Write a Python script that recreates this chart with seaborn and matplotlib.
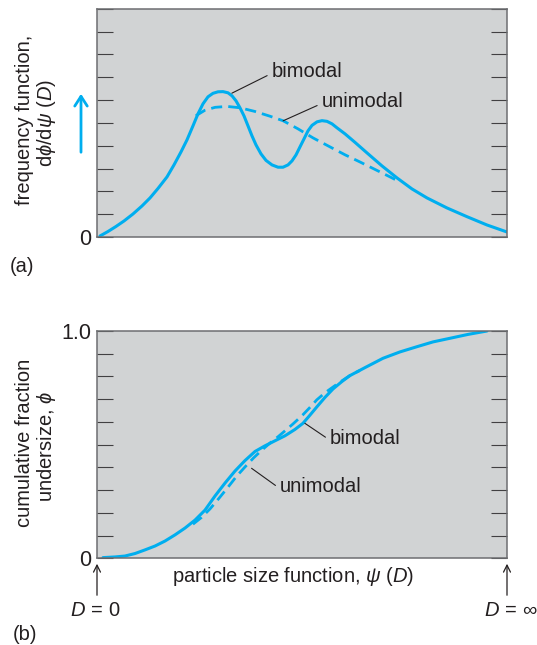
import matplotlib
matplotlib.use('Agg')
import matplotlib.pyplot as plt
import seaborn as sns
import pandas as pd

# values (x: 0..10 across the axis)
top_bi_x = [0.073, 0.268, 0.463, 0.659, 0.878, 1.098, 1.293, 1.488, 1.707, 1.878, 2.049, 2.195,
            2.341, 2.463, 2.585, 2.707, 2.829, 2.951, 3.073, 3.195, 3.293, 3.390, 3.488, 3.585,
            3.683, 3.780, 3.878, 4.000, 4.122, 4.268, 4.415, 4.537, 4.659, 4.756, 4.854, 4.951,
            5.049, 5.146, 5.244, 5.366, 5.488, 5.610, 5.732, 5.854, 6.049, 6.293, 6.585, 6.951,
            7.317, 7.683, 8.049, 8.537, 9.024, 9.512, 10.0]
top_bi_y = [0.044, 0.241, 0.461, 0.702, 1.009, 1.360, 1.711, 2.127, 2.632, 3.158, 3.728, 4.254,
            4.868, 5.395, 5.833, 6.140, 6.294, 6.360, 6.368, 6.316, 6.184, 5.965, 5.658, 5.307,
            4.868, 4.430, 4.035, 3.640, 3.355, 3.158, 3.057, 3.057, 3.158, 3.333, 3.596, 3.947,
            4.298, 4.649, 4.890, 5.044, 5.096, 5.066, 4.956, 4.781, 4.518, 4.145, 3.684, 3.114,
            2.588, 2.105, 1.711, 1.272, 0.890, 0.526, 0.219]
top_uni_x = [2.41, 2.63, 2.88, 3.17, 3.49, 3.85, 4.22, 4.54, 4.90, 5.27, 5.68, 6.05, 6.41, 6.78, 7.15, 7.39]
top_uni_y = [5.31, 5.55, 5.68, 5.72, 5.66, 5.50, 5.29, 5.09, 4.74, 4.34, 3.95, 3.60, 3.29, 2.96, 2.63, 2.41]

bot_bi_x = [0.146, 0.439, 0.683, 0.927, 1.171, 1.415, 1.659, 1.902, 2.146, 2.390, 2.634, 2.878,
            3.122, 3.366, 3.610, 3.854, 4.098, 4.341, 4.585, 4.829, 5.024, 5.195, 5.366, 5.561,
            5.756, 5.976, 6.171, 6.537, 6.976, 7.390, 7.805, 8.195, 8.610, 9.049, 9.512]
bot_bi_y = [0.003, 0.006, 0.010, 0.021, 0.037, 0.054, 0.076, 0.103, 0.133, 0.168, 0.212, 0.274,
            0.331, 0.384, 0.430, 0.470, 0.495, 0.517, 0.539, 0.567, 0.594, 0.630, 0.667, 0.708,
            0.745, 0.778, 0.804, 0.839, 0.880, 0.908, 0.931, 0.952, 0.968, 0.985, 1.0]
bot_uni_x = [2.34, 2.55, 2.76, 2.98, 3.20, 3.40, 3.61, 3.82, 4.02, 4.22, 4.41, 4.60, 4.78, 5.02,
             5.20, 5.36, 5.56, 5.76, 6.00, 6.20, 6.41]
bot_uni_y = [0.150, 0.180, 0.218, 0.265, 0.314, 0.360, 0.402, 0.442, 0.476, 0.507, 0.534, 0.563,
             0.591, 0.631, 0.665, 0.697, 0.728, 0.754, 0.784, 0.808, 0.826]

top_ticks = list(range(0, 11))
bot_ticks = [i / 10 for i in range(0, 11)]

BLUE = '#00AEEF'
BG = '#D1D3D4'
TXT = '#231F20'
GRAY = '#6D6E71'

sns.set_style('white')
plt.rcParams['font.family'] = ['Liberation Sans', 'DejaVu Sans']
plt.rcParams['mathtext.fontset'] = 'custom'
plt.rcParams['mathtext.rm'] = 'Liberation Sans'
plt.rcParams['mathtext.it'] = 'Liberation Sans:italic'
FS = 14.5

fig = plt.figure(figsize=(5.37, 6.45), dpi=100)
W, H = 537.0, 645.0
ax1 = fig.add_axes([97 / W, 1 - 237 / H, 410 / W, 228.3 / H])
ax2 = fig.add_axes([97 / W, 1 - 558.3 / H, 410 / W, 227.3 / H])

top_bi = pd.DataFrame({'x': top_bi_x, 'y': top_bi_y})
top_uni = pd.DataFrame({'x': top_uni_x, 'y': top_uni_y})
bot_bi = pd.DataFrame({'x': bot_bi_x, 'y': bot_bi_y})
bot_uni = pd.DataFrame({'x': bot_uni_x, 'y': bot_uni_y})

sns.lineplot(data=top_bi, x='x', y='y', ax=ax1, color=BLUE, lw=2.2, sort=False, estimator=None)
sns.lineplot(data=top_uni, x='x', y='y', ax=ax1, color=BLUE, lw=2.0, sort=False, estimator=None,
             dashes=False, linestyle=(0, (4, 2.2)))
sns.lineplot(data=bot_bi, x='x', y='y', ax=ax2, color=BLUE, lw=2.2, sort=False, estimator=None)
sns.lineplot(data=bot_uni, x='x', y='y', ax=ax2, color=BLUE, lw=2.0, sort=False, estimator=None,
             dashes=False, linestyle=(0, (4, 2.2)))

for ax, ticks, lab in [(ax1, top_ticks, ['0'] + [''] * 10), (ax2, bot_ticks, ['0'] + [''] * 9 + ['1.0'])]:
    ax.set_facecolor(BG)
    ax.set_xlim(0, 10)
    ax.set_ylim(ticks[0], ticks[-1])
    ax.set_xticks([])
    ax.set_yticks(ticks)
    ax.set_yticklabels(lab, fontsize=FS + 1, color=TXT)
    ax.tick_params(axis='y', direction='in', length=11.5, width=0.8, color='#414042',
                   left=True, right=True, labelleft=True, labelright=False, pad=4)
    ax.set_xlabel('')
    ax.set_ylabel('')
    for s in ax.spines.values():
        s.set_color(GRAY)
        s.set_linewidth(1.1)

# leader-line labels
def label(ax, txt, xy, xyt):
    ax.annotate(txt, xy=xy, xytext=xyt, ha='left', va='center', fontsize=FS, color=TXT,
                arrowprops=dict(arrowstyle='-', color=TXT, lw=0.8, shrinkA=1, shrinkB=0,
                                relpos=(0, 0.4)))

label(ax1, 'bimodal', (3.29, 6.30), (4.26, 7.25))
label(ax1, 'unimodal', (4.54, 5.09), (5.48, 5.93))
label(ax2, 'bimodal', (5.07, 0.594), (5.68, 0.528))
label(ax2, 'unimodal', (3.77, 0.396), (4.46, 0.315))

# axis titles
fig.text(25 / W, 1 - 120 / H, 'frequency function,', rotation=90, ha='center', va='center',
         fontsize=FS, color=TXT)
fig.text(47 / W, 1 - 123 / H, r'd$\phi$/d$\psi$ ($D$)', rotation=90, ha='center', va='center',
         fontsize=FS, color=TXT)
fig.text(25 / W, 1 - 443 / H, 'cumulative fraction', rotation=90, ha='center', va='center',
         fontsize=FS, color=TXT)
fig.text(47 / W, 1 - 447 / H, r'undersize, $\phi$', rotation=90, ha='center', va='center',
         fontsize=FS, color=TXT)
fig.text(293 / W, 1 - 577 / H, r'particle size function, $\psi$ ($D$)', ha='center', va='center',
         fontsize=FS, color=TXT)

# blue arrow beside the top y label
fig.add_artist(matplotlib.patches.FancyArrowPatch((81 / W, 1 - 155 / H), (81 / W, 1 - 91 / H),
               transform=fig.transFigure, arrowstyle='->,head_length=7,head_width=4.5',
               color=BLUE, lw=2))
# D = 0 / D = inf markers
for xp, txt, xt in [(97, r'$D\,{=}\,0$', 95), (507, r'$D\,{=}\,\infty$', 511)]:
    fig.add_artist(matplotlib.patches.FancyArrowPatch((xp / W, 1 - 598 / H), (xp / W, 1 - 561 / H),
                   transform=fig.transFigure, arrowstyle='->,head_length=5,head_width=2.5',
                   color=TXT, lw=0.9))
    fig.text(xt / W, 1 - 611 / H, txt, ha='center', va='center', fontsize=FS, color=TXT)

fig.text(22 / W, 1 - 267 / H, '(a)', ha='center', va='center', fontsize=FS, color=TXT)
fig.text(25 / W, 1 - 635 / H, '(b)', ha='center', va='center', fontsize=FS, color=TXT)

fig.savefig('out.png', dpi=100)
